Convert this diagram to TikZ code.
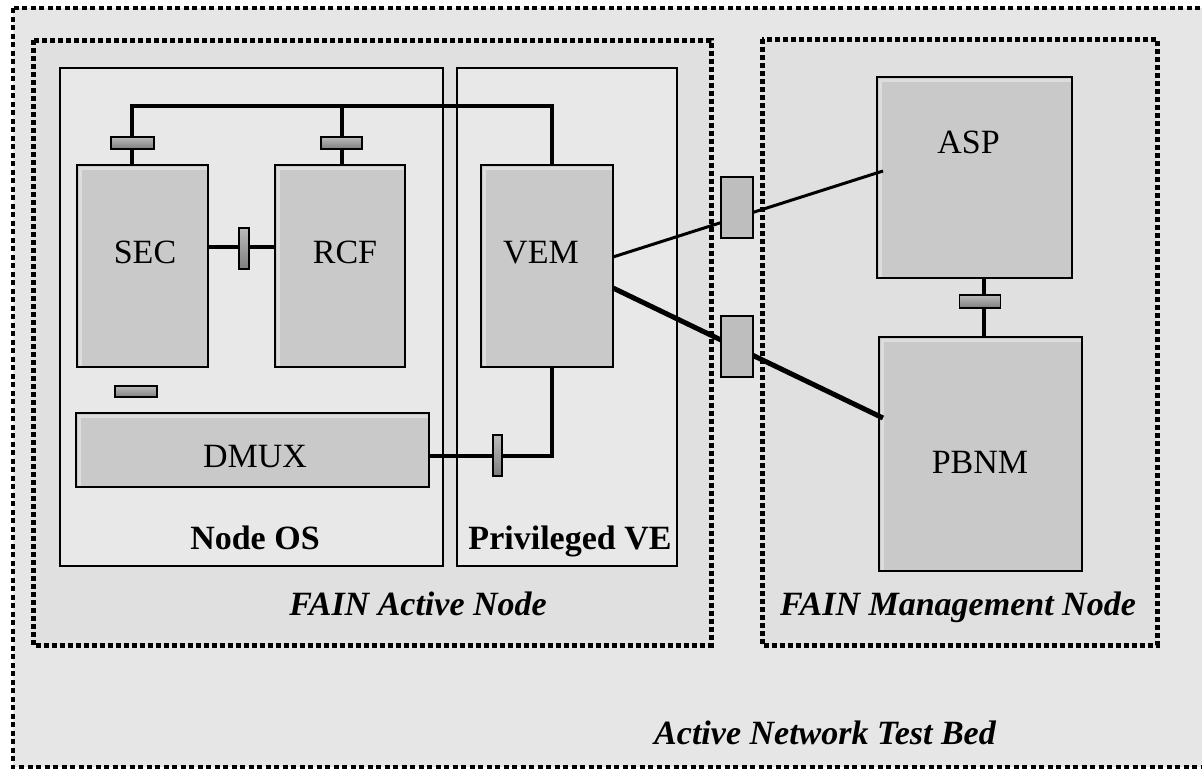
\documentclass[tikz,border=0pt]{standalone}
\usepackage{fontspec}
\setmainfont{Liberation Serif}
\definecolor{bedfill}{HTML}{E6E6E6}
\definecolor{nodefill}{HTML}{E0E0E0}
\definecolor{osfill}{HTML}{E8E8E8}
\definecolor{boxfill}{HTML}{C9C9C9}
\definecolor{boxlight}{HTML}{DDDDDD}
\definecolor{gwfill}{HTML}{BEBEBE}
\definecolor{porttop}{HTML}{BBBBBB}
\definecolor{portmid}{HTML}{9C9C9C}
\definecolor{portbot}{HTML}{7E7E7E}

\begin{document}
\begin{tikzpicture}[x=1pt,y=-1pt,
  every node/.style={inner sep=0pt, outer sep=0pt},
  bedline/.style={draw=black, line width=4pt, dash pattern=on 5pt off 3.5pt},
  domline/.style={draw=black, line width=5pt, dash pattern=on 5pt off 3pt},
  layer/.style={draw=black, line width=2.5pt, fill=osfill},
  box/.style={rectangle, draw=black, line width=2.5pt, fill=boxfill,
    path picture={\draw[boxlight, line width=3pt]
      ([xshift=3pt]path picture bounding box.south west) --
      ([xshift=3pt,yshift=-3pt]path picture bounding box.north west) --
      ([yshift=-3pt]path picture bounding box.north east);}},
  port/.style={rectangle, draw=black, line width=1.2pt,
    top color=porttop, middle color=portmid, bottom color=portbot},
  gateway/.style={rectangle, draw=black, line width=1.5pt, fill=gwfill},
  wire/.style={draw=black, line width=4pt},
  thinwire/.style={draw=black, line width=3pt},
  thickwire/.style={draw=black, line width=5pt},
  lbl/.style={anchor=base, font=\fontsize{34}{40}\selectfont},
  boldlbl/.style={anchor=base, font=\fontsize{34}{40}\selectfont\bfseries},
  titlelbl/.style={anchor=base, font=\fontsize{34}{40}\selectfont\bfseries\itshape}]

\useasboundingbox (0,0) rectangle (1202,769);

% test bed and the two FAIN nodes
\fill[white] (0,0) rectangle (1202,769);
\path[bedline, fill=bedfill] (13,8) rectangle (1216,767);
\path[domline, fill=nodefill] (33,40) rectangle (711,645);
\path[domline, fill=nodefill] (762,39) rectangle (1157,645);

% execution layers of the active node
\path[layer] (60,68) rectangle (443,566);
\path[layer] (457,68) rectangle (677,566);

% components
\node[box, minimum width=131pt, minimum height=202pt] (sec) at (142.5,266) {};
\node[box, minimum width=130pt, minimum height=202pt] (rcf) at (340,266) {};
\node[box, minimum width=132pt, minimum height=202pt] (vem) at (547,266) {};
\node[box, minimum width=353pt, minimum height=74pt] (dmux) at (252.5,450) {};
\node[box, minimum width=195pt, minimum height=201pt] (asp) at (974.5,177.5) {};
\node[box, minimum width=203pt, minimum height=234pt] (pbnm) at (980.5,454) {};

% internal bus and links
\coordinate (busL) at (132,106);
\draw[wire] ([xshift=-10.5pt]sec.north) -- (busL) -| ([xshift=5pt]vem.north);
\draw[wire] ([xshift=2pt]rcf.north) -- ([xshift=2pt]rcf.north |- busL);
\draw[wire] ([yshift=19pt]sec.east) -- ([yshift=19pt]rcf.west);
\draw[wire] ([yshift=-6pt]dmux.east) -| ([xshift=5pt]vem.south);
\draw[wire] ([xshift=9.5pt]asp.south) -- ([xshift=9.5pt]asp.south |- pbnm.north);

% links from the VEM to the management node
\draw[thinwire] ([yshift=9pt]vem.east) -- ([xshift=6pt,yshift=6.5pt]asp.west);
\draw[thickwire] ([yshift=-22pt]vem.east) -- ([xshift=4pt,yshift=36pt]pbnm.west);

% ports
\node[port, minimum width=43pt, minimum height=12pt] (psec) at (132.5,143) {};
\node[port, minimum width=41pt, minimum height=12pt] (prcf) at (341.5,143) {};
\node[port, minimum width=10pt, minimum height=41pt] (psr) at (244,248.5) {};
\node[port, minimum width=42pt, minimum height=11pt] (pdx) at (136,391.5) {};
\node[port, minimum width=9pt, minimum height=41pt] (pdv) at (497.5,455.5) {};
\node[port, minimum width=41pt, minimum height=13pt] (pap) at (980,301.5) {};

% gateways between the nodes
\node[gateway, minimum width=32pt, minimum height=61pt] (gwa) at (737,207.5) {};
\node[gateway, minimum width=32pt, minimum height=61pt] (gwb) at (737,346.5) {};

% labels
\node[lbl] (tsec) at (145,263) {SEC};
\node[lbl] (trcf) at (345,263) {RCF};
\node[lbl] (tvem) at (541,263) {VEM};
\node[lbl] (tdmux) at (255,467) {DMUX};
\node[lbl] (tasp) at (968.5,153) {ASP};
\node[lbl] (tpbnm) at (980,473) {PBNM};
\node[boldlbl] (tos) at (255,549) {Node OS};
\node[boldlbl] (tpve) at (570,549) {Privileged VE};
\node[titlelbl] (tan) at (418,615) {FAIN Active Node};
\node[titlelbl] (tmn) at (958,615) {FAIN Management Node};
\node[titlelbl] (tbed) at (825,744) {Active Network Test Bed};
\end{tikzpicture}
\end{document}
